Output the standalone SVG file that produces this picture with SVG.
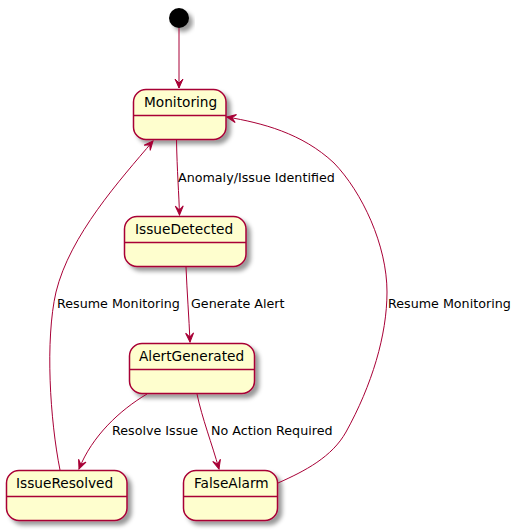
<svg xmlns="http://www.w3.org/2000/svg" width="521" height="530" viewBox="0 0 521 530">
  <style>
    .state rect { fill: #FEFECE; stroke: #A80036; stroke-width: 1.5; }
    .state line { stroke: #A80036; stroke-width: 1.5; }
    .state text { font-family: "DejaVu Sans", "Liberation Sans", sans-serif; font-size: 13.7px; fill: #000; }
    .edge { fill: none; stroke: #A80036; stroke-width: 1; }
    .lbl { font-family: "DejaVu Sans", "Liberation Sans", sans-serif; font-size: 12.7px; fill: #000; }
  </style>
  <defs>
    <filter id="shadow" x="-20%" y="-20%" width="150%" height="160%">
      <feGaussianBlur in="SourceAlpha" stdDeviation="2"/>
      <feOffset dx="4" dy="4" result="b"/>
      <feColorMatrix in="b" type="matrix" values="0 0 0 0 0  0 0 0 0 0  0 0 0 0 0  0 0 0 0.4 0" result="s"/>
      <feMerge><feMergeNode in="s"/><feMergeNode in="SourceGraphic"/></feMerge>
    </filter>
    <marker id="ah" viewBox="-10 -5 12 10" markerWidth="12" markerHeight="10" refX="0" refY="0" orient="auto" markerUnits="userSpaceOnUse">
      <path d="M0,0 L-9,-4 L-5,0 L-9,4 Z" fill="#A80036" stroke="#A80036" stroke-width="1"/>
    </marker>
  </defs>

  <!-- states -->
  <g id="start">
    <circle cx="179" cy="18" r="10" fill="#000" filter="url(#shadow)"/>
  </g>
  <g id="Monitoring" class="state">
    <rect x="133.5" y="89.5" width="92.5" height="50" rx="12.5" filter="url(#shadow)"/>
    <line x1="133.5" y1="115.5" x2="226" y2="115.5"/>
    <text x="144" y="107">Monitoring</text>
  </g>
  <g id="IssueDetected" class="state">
    <rect x="124.5" y="216.5" width="121.5" height="50" rx="12.5" filter="url(#shadow)"/>
    <line x1="124.5" y1="242.5" x2="246" y2="242.5"/>
    <text x="135" y="234">IssueDetected</text>
  </g>
  <g id="AlertGenerated" class="state">
    <rect x="129.5" y="343.5" width="125" height="50" rx="12.5" filter="url(#shadow)"/>
    <line x1="129.5" y1="369.5" x2="254.5" y2="369.5"/>
    <text x="139" y="361">AlertGenerated</text>
  </g>
  <g id="IssueResolved" class="state">
    <rect x="6.5" y="470.5" width="120.5" height="50" rx="12.5" filter="url(#shadow)"/>
    <line x1="6.5" y1="496.5" x2="127" y2="496.5"/>
    <text x="16" y="488">IssueResolved</text>
  </g>
  <g id="FalseAlarm" class="state">
    <rect x="183.5" y="470.5" width="94" height="50" rx="12.5" filter="url(#shadow)"/>
    <line x1="183.5" y1="496.5" x2="277.5" y2="496.5"/>
    <text x="194" y="488">FalseAlarm</text>
  </g>

  <!-- transitions -->
  <g id="connectors">
    <path class="edge" d="M179,28 L179,88" marker-end="url(#ah)"/>
    <path class="edge" d="M176.5,140 C177,170 179,195 179.5,215" marker-end="url(#ah)"/>
    <text class="lbl" x="178" y="182">Anomaly/Issue Identified</text>
    <path class="edge" d="M186,267 C187,292 189,318 190,342" marker-end="url(#ah)"/>
    <text class="lbl" x="191" y="308">Generate Alert</text>
    <path class="edge" d="M147,394 C120,410 92,436 79,469" marker-end="url(#ah)"/>
    <text class="lbl" x="112" y="435">Resolve Issue</text>
    <path class="edge" d="M197,394 C202,418 212,444 219,469" marker-end="url(#ah)"/>
    <text class="lbl" x="211" y="435">No Action Required</text>
    <path class="edge" d="M60,470 C50,420 45,340 56,292 C70,235 120,180 153,141" marker-end="url(#ah)"/>
    <text class="lbl" x="57" y="308">Resume Monitoring</text>
    <path class="edge" d="M278,483 C305,471 332,457 346,432 C372,385 387,335 387,292 C387,245 362,192 334,163 C302,133 262,123 227,117" marker-end="url(#ah)"/>
    <text class="lbl" x="388" y="308">Resume Monitoring</text>
  </g>
</svg>
